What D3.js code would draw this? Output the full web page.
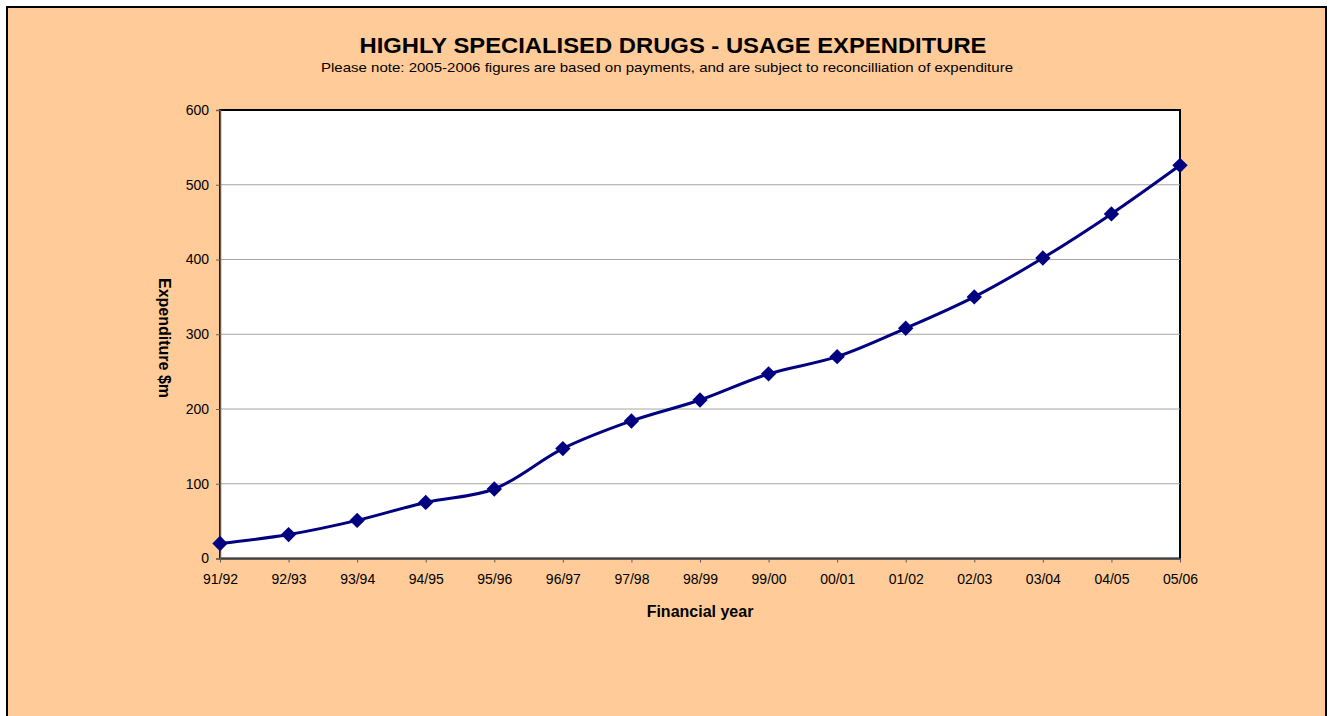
<!DOCTYPE html>
<html>
<head>
<meta charset="utf-8">
<script src="https://cdn.jsdelivr.net/npm/d3@7"></script>
<style>
  html, body { margin: 0; padding: 0; background: #ffffff; }
  svg { display: block; font-family: "Liberation Sans", Arial, sans-serif; }
</style>
</head>
<body>
<div id="chart"></div>
<script>
const years = ["91/92", "92/93", "93/94", "94/95", "95/96", "96/97", "97/98", "98/99",
  "99/00", "00/01", "01/02", "02/03", "03/04", "04/05", "05/06"];
const expenditure = [20, 32, 51, 75, 93, 147, 184, 212, 247, 270, 308, 350, 402, 461, 526];
const yTicks = [0, 100, 200, 300, 400, 500, 600];

const width = 1333;
const height = 716;
const plot = { left: 220, right: 1180, top: 110, bottom: 558.5 };

const svg = d3
  .select("#chart")
  .append("svg")
  .attr("width", width)
  .attr("height", height);

// chart area background with border
svg
  .append("rect")
  .attr("x", 7)
  .attr("y", 7)
  .attr("width", 1319)
  .attr("height", 720)
  .attr("fill", "#ffcc99")
  .attr("stroke", "#000")
  .attr("stroke-width", 2);

const x = d3.scalePoint().domain(years).range([plot.left, plot.right]);
const y = d3.scaleLinear().domain([0, 600]).range([plot.bottom, plot.top]);

// plot area
svg
  .append("rect")
  .attr("x", plot.left)
  .attr("y", plot.top)
  .attr("width", plot.right - plot.left)
  .attr("height", plot.bottom - plot.top)
  .attr("fill", "#fff")
  .attr("stroke", "#000")
  .attr("stroke-width", 2);

// gridlines
svg
  .append("g")
  .selectAll("line")
  .data(yTicks.filter((d) => d > 0 && d < 600))
  .join("line")
  .attr("x1", plot.left)
  .attr("x2", plot.right)
  .attr("y1", (d) => y(d))
  .attr("y2", (d) => y(d))
  .attr("stroke", "#a6a6a6")
  .attr("stroke-width", 1);

// y axis
const yAxis = svg
  .append("g")
  .attr("transform", `translate(${plot.left},0)`)
  .call(d3.axisLeft(y).tickValues(yTicks).tickSize(4).tickPadding(7));
yAxis.select(".domain").attr("stroke", "#6b5b4b").attr("stroke-width", 1.5);
yAxis.selectAll(".tick line").attr("stroke", "#6b5b4b");
yAxis.selectAll("text").attr("font-size", 14).attr("fill", "#000")
  .attr("font-family", "Liberation Sans, Arial, sans-serif");

// x axis
const xAxis = svg
  .append("g")
  .attr("transform", `translate(0,${plot.bottom})`)
  .call(d3.axisBottom(x).tickSizeInner(4).tickSizeOuter(0).tickPadding(12));
xAxis.select(".domain").attr("stroke", "#5a5a5a").attr("stroke-width", 1.5);
xAxis.selectAll(".tick line").attr("stroke", "#5a5a5a");
xAxis.selectAll("text").attr("font-size", 14).attr("fill", "#000")
  .attr("font-family", "Liberation Sans, Arial, sans-serif");

// line
const line = d3
  .line()
  .x((d, i) => x(years[i]))
  .y((d) => y(d))
  .curve(d3.curveCatmullRom.alpha(0.5));

svg
  .append("path")
  .datum(expenditure)
  .attr("fill", "none")
  .attr("stroke", "#000080")
  .attr("stroke-width", 3)
  .attr("d", line);

// markers
svg
  .append("g")
  .selectAll("path")
  .data(expenditure)
  .join("path")
  .attr("d", d3.symbol(d3.symbolSquare, 118))
  .attr("transform", (d, i) => `translate(${x(years[i])},${y(d)}) rotate(45)`)
  .attr("fill", "#000080");

// titles
svg
  .append("text")
  .attr("x", 673)
  .attr("y", 53)
  .attr("text-anchor", "middle")
  .attr("font-size", 22)
  .attr("font-weight", "bold")
  .attr("textLength", 627)
  .attr("lengthAdjust", "spacingAndGlyphs")
  .text("HIGHLY SPECIALISED DRUGS - USAGE EXPENDITURE");

svg
  .append("text")
  .attr("x", 667)
  .attr("y", 72)
  .attr("text-anchor", "middle")
  .attr("font-size", 13)
  .attr("textLength", 692)
  .attr("lengthAdjust", "spacingAndGlyphs")
  .text("Please note: 2005-2006 figures are based on payments, and are subject to reconcilliation of expenditure");

svg
  .append("text")
  .attr("x", 700)
  .attr("y", 617)
  .attr("text-anchor", "middle")
  .attr("font-size", 16)
  .attr("font-weight", "bold")
  .text("Financial year");

svg
  .append("text")
  .attr("transform", "translate(159,338) rotate(90)")
  .attr("text-anchor", "middle")
  .attr("font-size", 16)
  .attr("font-weight", "bold")
  .text("Expenditure $m");
</script>
</body>
</html>
